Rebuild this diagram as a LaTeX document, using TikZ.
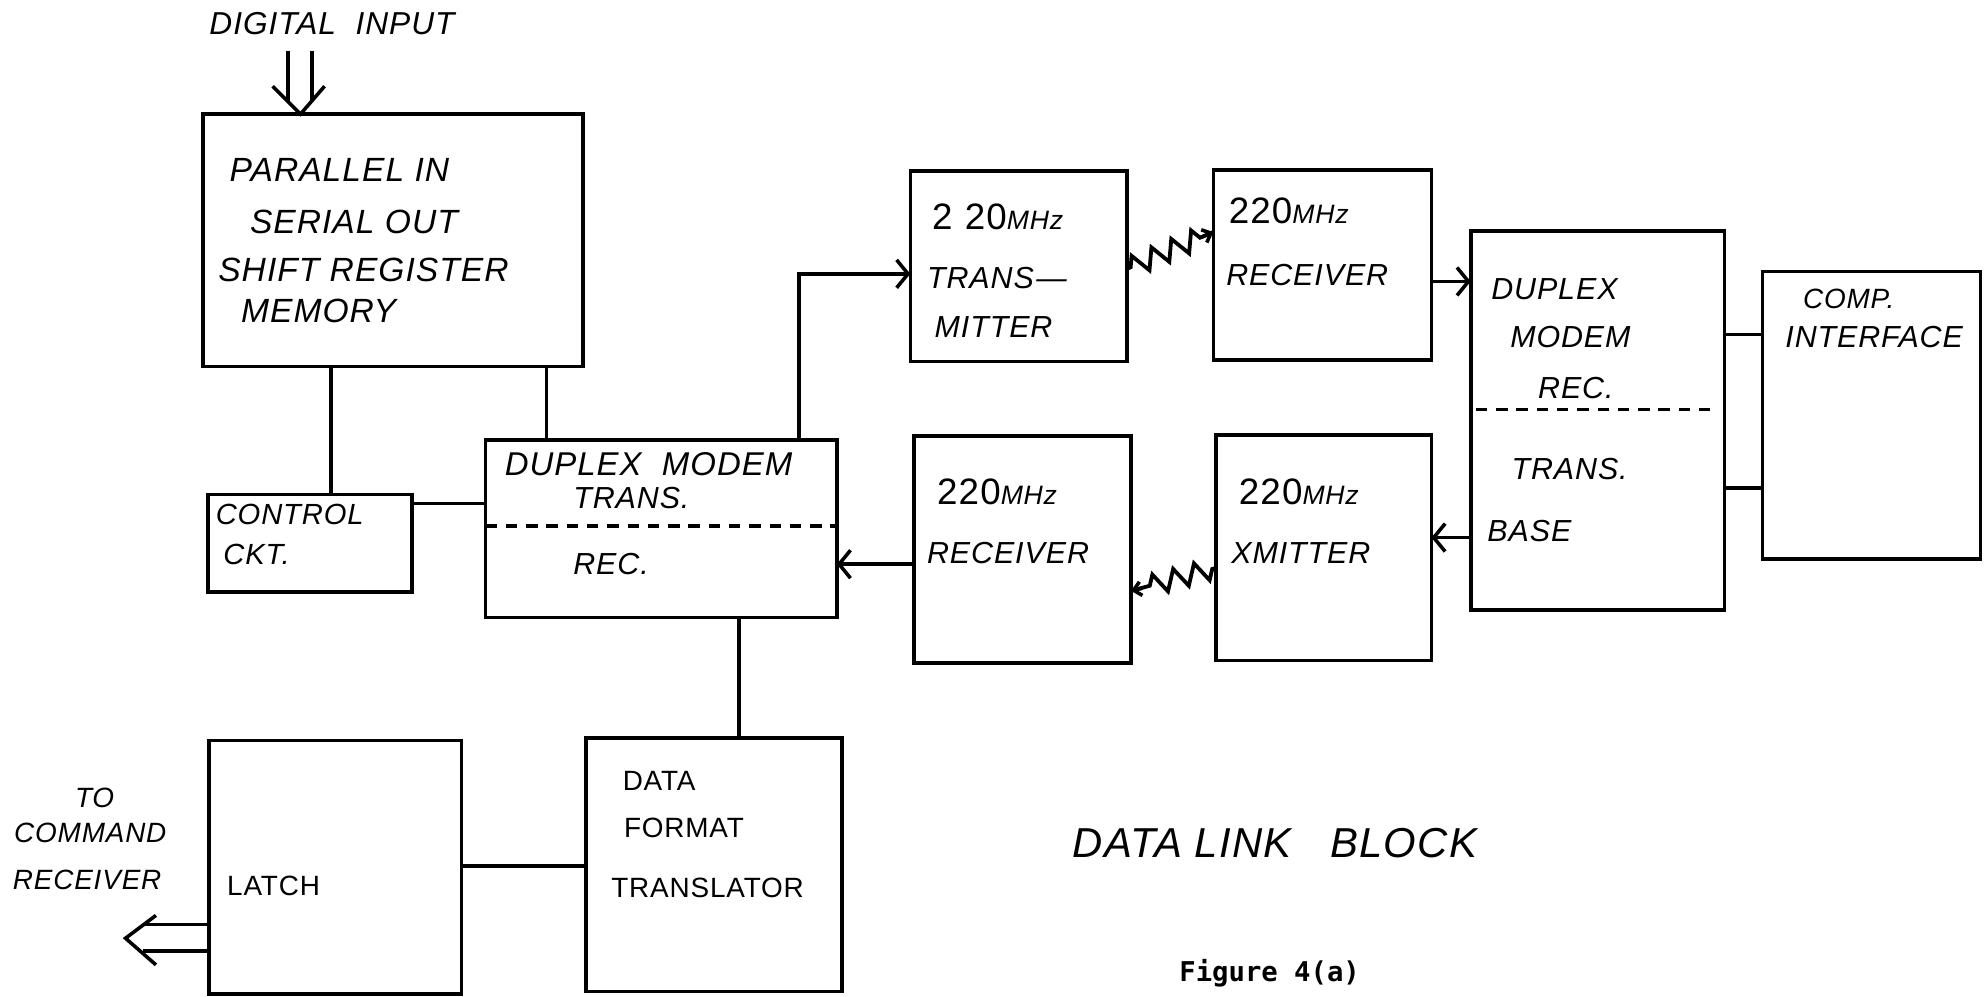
\documentclass[tikz,border=0pt]{standalone}
\usepackage{fontspec}
\setmainfont{Liberation Sans}
\newfontfamily\handfont[LetterSpace=3]{Liberation Sans}
\newfontfamily\figmono{DejaVu Sans Mono}
\usetikzlibrary{arrows.meta,calc,decorations.pathmorphing}
\tikzset{
  blk/.style={draw, line width=2.8pt, anchor=north west, inner sep=0pt, outer sep=0pt},
  ln/.style={line width=2.8pt},
  arr/.style={-{Straight Barb[length=9pt,width=22pt,line width=2.8pt]}},
  zz/.style={line width=3pt, line join=miter, decorate, decoration={zigzag, segment length=17pt, amplitude=8pt, pre length=3pt, post length=8pt}},
  dsh/.style={line width=3pt, dash pattern=on 9pt off 7pt},
  hand/.style={anchor=west, inner sep=0pt, font=\handfont\itshape\fontsize{#1}{#1}\selectfont},
  uprt/.style={anchor=west, inner sep=0pt, font=\handfont\fontsize{#1}{#1}\selectfont},
}
\newcommand\mhz{{\upshape\fontsize{29}{29}\selectfont 220}{\fontsize{21}{21}\selectfont MHz}}
\begin{document}
\begin{tikzpicture}[x=1pt,y=-1pt]
\fill[white] (0,0) rectangle (1568,786);
\useasboundingbox (0,0) rectangle (1568,786);

% boxes
\node[blk, minimum width=300pt, minimum height=199pt] (piso)  at (160,90) {};
\node[blk, minimum width=161pt, minimum height=77pt]  (ctrl)  at (164,390) {};
\node[blk, minimum width=277pt, minimum height=140pt] (dmt)   at (383,347) {};
\node[blk, minimum width=171pt, minimum height=150pt] (tx)    at (718,135) {};
\node[blk, minimum width=172pt, minimum height=150pt] (rxa)   at (957,134) {};
\node[blk, minimum width=171pt, minimum height=179pt] (rxb)   at (721,344) {};
\node[blk, minimum width=170pt, minimum height=178pt] (xm)    at (959,343) {};
\node[blk, minimum width=200pt, minimum height=299pt] (base)  at (1160,182) {};
\node[blk, minimum width=172pt, minimum height=227pt] (comp)  at (1390,214) {};
\node[blk, minimum width=199pt, minimum height=200pt] (latch) at (165,584) {};
\node[blk, minimum width=202pt, minimum height=200pt] (dft)   at (462,582) {};

% dashed dividers
\coordinate (d1) at (0,415);
\draw[dsh] (dmt.west |- d1) -- (dmt.east |- d1);
\coordinate (d2) at (0,323);
\draw[dsh] ($(base.west |- d2)+(4,0)$) -- ($(base.east |- d2)+(-10,0)$);

% texts
\node[hand=25] (tdi) at (165,19) {DIGITAL\ \ INPUT};
\node[hand=26.5] (tp1) at (181,134) {PARALLEL IN};
\node[hand=26.5] (tp2) at (197,175) {SERIAL OUT};
\node[hand=26.5] (tp3) at (172,213) {SHIFT REGISTER};
\node[hand=26.5] (tp4) at (190,245) {MEMORY};
\node[hand=23] (tc1) at (170,406) {CONTROL};
\node[hand=23] (tc2) at (176,437) {CKT.};
\node[hand=26] (td1) at (398,366) {DUPLEX\ \ MODEM};
\node[hand=24] (td2) at (452,393) {TRANS.};
\node[hand=24] (td3) at (452,445) {REC.};
\node[hand=24] (tt1) at (735,171) {{\upshape\fontsize{29}{29}\selectfont 2\,\,20}{\fontsize{21}{21}\selectfont MHz}};
\node[hand=24] (tt2) at (731,219) {TRANS\kern2pt—};
\node[hand=24] (tt3) at (737,258) {MITTER};
\node[hand=24] (tr1) at (969,166) {\mhz};
\node[hand=24] (tr2) at (967,217) {RECEIVER};
\node[hand=24] (tr3) at (739,388) {\mhz};
\node[hand=24] (tr4) at (731,436) {RECEIVER};
\node[hand=24] (tx1) at (977,388) {\mhz};
\node[hand=24] (tx2) at (971,436) {XMITTER};
\node[hand=24] (tb1) at (1176,228) {DUPLEX};
\node[hand=24] (tb2) at (1191,266) {MODEM};
\node[hand=24] (tb3) at (1213,306) {REC.};
\node[hand=24] (tb4) at (1192,370) {TRANS.};
\node[hand=24] (tb5) at (1173,419) {BASE};
\node[hand=22] (tm1) at (1422,236) {COMP.};
\node[hand=24] (tm2) at (1408,266) {INTERFACE};
\node[hand=22] (to1) at (59,629) {TO};
\node[hand=22] (to2) at (11,657) {COMMAND};
\node[hand=22] (to3) at (10,694) {RECEIVER};
\node[uprt=22] (tl)  at (179,699) {LATCH};
\node[uprt=22] (tf1) at (491,616) {DATA};
\node[uprt=22] (tf2) at (492,653) {FORMAT};
\node[uprt=22] (tf3) at (482,700) {TRANSLATOR};
\node[hand=33] (tdl) at (846,665) {DATA LINK\ \ \ BLOCK};
\node[anchor=west, inner sep=0pt, font=\figmono\bfseries\fontsize{21.5}{21.5}\selectfont] (tfig) at (930,768) {Figure 4(a)};

% connectors
\coordinate (v1) at (261,0);
\draw[ln] (piso.south -| v1) -- (ctrl.north -| v1);
\coordinate (v2) at (431,0);
\draw[ln] (piso.south -| v2) -- (dmt.north -| v2);
\coordinate (h1) at (0,397);
\draw[ln] (ctrl.east |- h1) -- (dmt.west |- h1);
\coordinate (c1) at (630,216);
\draw[ln,arr] (dmt.north -| c1) |- (tx.west |- c1);
\coordinate (z1a) at (0,212); \coordinate (z1b) at (0,183);
\draw[zz] (tx.east |- z1a) -- (rxa.west |- z1b);
\draw[ln,-{Straight Barb[length=6pt,width=11pt,line width=2.8pt]}] ($(rxa.west |- z1b)+(-9,4)$) -- (rxa.west |- z1b);
\coordinate (h2) at (0,222);
\draw[ln,arr] (rxa.east |- h2) -- (base.west |- h2);
\coordinate (h3) at (0,424);
\draw[ln,arr] (base.west |- h3) -- (xm.east |- h3);
\coordinate (z2a) at (0,448); \coordinate (z2b) at (0,466);
\draw[zz] (xm.west |- z2a) -- (rxb.east |- z2b);
\draw[ln,-{Straight Barb[length=6pt,width=11pt,line width=2.8pt]}] ($(rxb.east |- z2b)+(9,-2)$) -- (rxb.east |- z2b);
\coordinate (h4) at (0,445);
\draw[ln,arr] (rxb.west |- h4) -- (dmt.east |- h4);
\coordinate (h5) at (0,264); \coordinate (h6) at (0,385);
\draw[ln] (base.east |- h5) -- (comp.west |- h5);
\draw[ln] (base.east |- h6) -- (comp.west |- h6);
\coordinate (v3) at (583,0);
\draw[ln] (dmt.south -| v3) -- (dft.north -| v3);
\coordinate (h7) at (0,683);
\draw[ln] (latch.east |- h7) -- (dft.west |- h7);

% digital input double arrow
\coordinate (dit) at (237,0);
\draw[ln] ($(piso.north -| dit)+(-10,-50)$) -- ++(0,40);
\draw[ln] ($(piso.north -| dit)+(9,-50)$) -- ++(0,40);
\draw[ln, line join=miter] ($(piso.north -| dit)+(-22,-22)$) -- (piso.north -| dit) -- ++(19,-22);

% output double arrow
\coordinate (ot) at (99,740);
\coordinate (o1) at (0,729); \coordinate (o2) at (0,750);
\draw[ln] (latch.west |- o1) -- ($(ot)+(15,-11)$);
\draw[ln] (latch.west |- o2) -- ($(ot)+(14,10)$);
\draw[ln, line join=miter] ($(ot)+(24,-18)$) -- (ot) -- ++(24,21);
\end{tikzpicture}
\end{document}
